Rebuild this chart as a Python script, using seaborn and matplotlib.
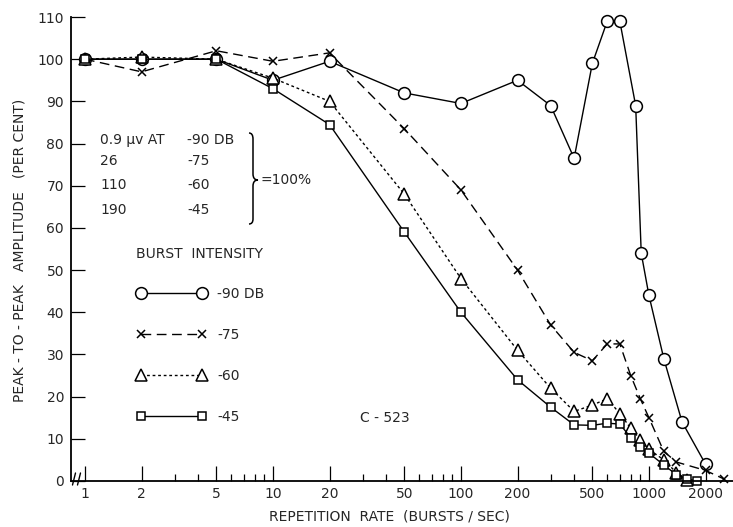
import numpy as np
import pandas as pd
import matplotlib
matplotlib.use("Agg")
import matplotlib.pyplot as plt
import seaborn as sns
from matplotlib.path import Path
from matplotlib.patches import PathPatch
from matplotlib.ticker import FixedLocator, FixedFormatter, NullFormatter
from matplotlib.lines import Line2D

# ---------------- data ----------------
rate_90 = [1, 2, 5, 10, 20, 50, 100, 200, 300, 400, 500, 600, 700, 850, 910, 1000, 1200, 1500, 2000]
amp_90 = [100, 100, 100, 95, 99.5, 92, 89.5, 95, 89, 76.5, 99, 109, 109, 89, 54, 44, 29, 14, 4]

rate_75 = [1, 2, 5, 10, 20, 50, 100, 200, 300, 400, 500, 600, 700, 800, 900, 1000, 1200, 1400, 2000, 2500]
amp_75 = [100, 97, 102, 99.5, 101.5, 83.5, 69, 50, 37, 30.5, 28.5, 32.5, 32.5, 25, 19.5, 15, 7, 4.5, 2.5, 0.5]

rate_60 = [1, 2, 5, 10, 20, 50, 100, 200, 300, 400, 500, 600, 700, 800, 900, 1000, 1200, 1400, 1600]
amp_60 = [100, 100.5, 100, 95.5, 90, 68, 48, 31, 22, 16.5, 18, 19.5, 16, 12.5, 9.8, 7.5, 5, 2, 0.3]

rate_45 = [1, 2, 5, 10, 20, 50, 100, 200, 300, 400, 500, 600, 700, 800, 900, 1000, 1200, 1400, 1600, 1800]
amp_45 = [100, 100, 100, 93, 84.5, 59, 40, 24, 17.5, 13.3, 13.2, 13.7, 13.5, 10.3, 8, 6.6, 3.8, 1.5, 0.5, 0]

series_labels = ["-90 DB", "-75", "-60", "-45"]
x_major = [1, 2, 5, 10, 20, 50, 100, 200, 500, 1000, 2000]
x_major_labels = ["1", "2", "5", "10", "20", "50", "100", "200", "500", "1000", "2000"]
x_minor = [3, 4, 6, 7, 8, 9, 30, 40, 60, 70, 80, 90, 300, 400, 600, 700, 800, 900]
y_ticks = list(range(0, 111, 10))

ref_uv = ["0.9 \u03bcv AT", "26", "110", "190"]
ref_db = ["-90 DB", "-75", "-60", "-45"]

# ---------------- style ----------------
sns.set_style("ticks")
plt.rcParams['font.family'] = ['DejaVu Sans']

W, H = 733, 527
fig = plt.figure(figsize=(W / 100, H / 100), dpi=100)
ax = fig.add_axes([71 / W, 1 - 481 / H, 1 - 71 / W, (481 - 17) / H])

def fx(x):
    return x / W

def fy(y):
    return 1 - y / H

styles = {
    "-90 DB": dict(marker='o', markersize=8.5, linestyle='-'),
    "-75": dict(marker='x', markersize=6, linestyle=(0, (7, 4))),
    "-60": dict(marker='^', markersize=9, linestyle=(0, (2, 2))),
    "-45": dict(marker='s', markersize=5.5, linestyle='-'),
}

data = [(series_labels[0], rate_90, amp_90),
        (series_labels[1], rate_75, amp_75),
        (series_labels[2], rate_60, amp_60),
        (series_labels[3], rate_45, amp_45)]

for lab, r, a in data:
    df = pd.DataFrame({"rate": r, "amp": a})
    sns.lineplot(data=df, x="rate", y="amp", ax=ax, color="black", lw=1.0,
                 markerfacecolor="white", markeredgecolor="black",
                 markeredgewidth=1.1, estimator=None, sort=False,
                 label=lab, clip_on=False, **styles[lab])

ax.set_xscale("log")
ax.set_xlim(0.843, 2800)
ax.set_ylim(0, 110)

ax.xaxis.set_major_locator(FixedLocator(x_major))
ax.xaxis.set_major_formatter(FixedFormatter(x_major_labels))
ax.xaxis.set_minor_locator(FixedLocator(x_minor))
ax.xaxis.set_minor_formatter(NullFormatter())
ax.set_yticks(y_ticks)

ax.tick_params(axis='x', which='major', direction='in', length=11, width=0.9,
               labelsize=10, pad=4, color='black')
ax.tick_params(axis='x', which='minor', direction='in', length=5, width=0.9, color='black')
ax.tick_params(axis='y', which='major', direction='in', length=10, width=0.9,
               labelsize=10, pad=5, color='black')

for s in ["top", "right"]:
    ax.spines[s].set_visible(False)
for s in ["left", "bottom"]:
    ax.spines[s].set_linewidth(1.3)
    ax.spines[s].set_color("black")

ax.set_xlabel("REPETITION  RATE  (BURSTS / SEC)", fontsize=10)
ax.set_ylabel("PEAK - TO - PEAK   AMPLITUDE   (PER CENT)", fontsize=10)
ax.xaxis.set_label_coords((389 - 71) / 662, (481 - 510) / 464)
ax.yaxis.set_label_coords((27 - 71) / 662, (481 - 250) / 464)

# legend
handles, labels = ax.get_legend_handles_labels()
leg = ax.legend(handles, labels, title="BURST  INTENSITY", loc="upper left",
                bbox_to_anchor=((124 - 71) / 662, (481 - 234) / 464),
                frameon=False, numpoints=2, handlelength=5.0, handletextpad=0.8,
                labelspacing=1.93, fontsize=10, title_fontsize=10,
                alignment="left")

# reference text block
rows_y = [140, 161, 185, 210]
for uv, db, yy in zip(ref_uv, ref_db, rows_y):
    fig.text(fx(100), fy(yy), uv, fontsize=10, va="center", ha="left")
    fig.text(fx(187), fy(yy), db, fontsize=10, va="center", ha="left")
fig.text(fx(260), fy(180), "=100%", fontsize=10, va="center", ha="left")
fig.text(fx(360), fy(418), "C - 523", fontsize=10, va="center", ha="left")

# brace
verts = [(249, 133), (253, 133), (253, 139),
         (253, 174),
         (253, 180), (258, 180),
         (253, 180), (253, 186),
         (253, 219),
         (253, 224), (249, 224)]
codes = [Path.MOVETO, Path.CURVE3, Path.CURVE3,
         Path.LINETO,
         Path.CURVE3, Path.CURVE3,
         Path.CURVE3, Path.CURVE3,
         Path.LINETO,
         Path.CURVE3, Path.CURVE3]
verts_f = [(fx(x), fy(y)) for x, y in verts]
brace = PathPatch(Path(verts_f, codes), transform=fig.transFigure, fill=False,
                  lw=1.1, edgecolor="black")
fig.patches.append(brace)

# axis break mark
for xb in (74, 79):
    fig.add_artist(Line2D([fx(xb - 1.5), fx(xb + 1.5)], [fy(485), fy(473)],
                          transform=fig.transFigure, color="black", lw=1.0))

fig.savefig("out.png", dpi=100)
